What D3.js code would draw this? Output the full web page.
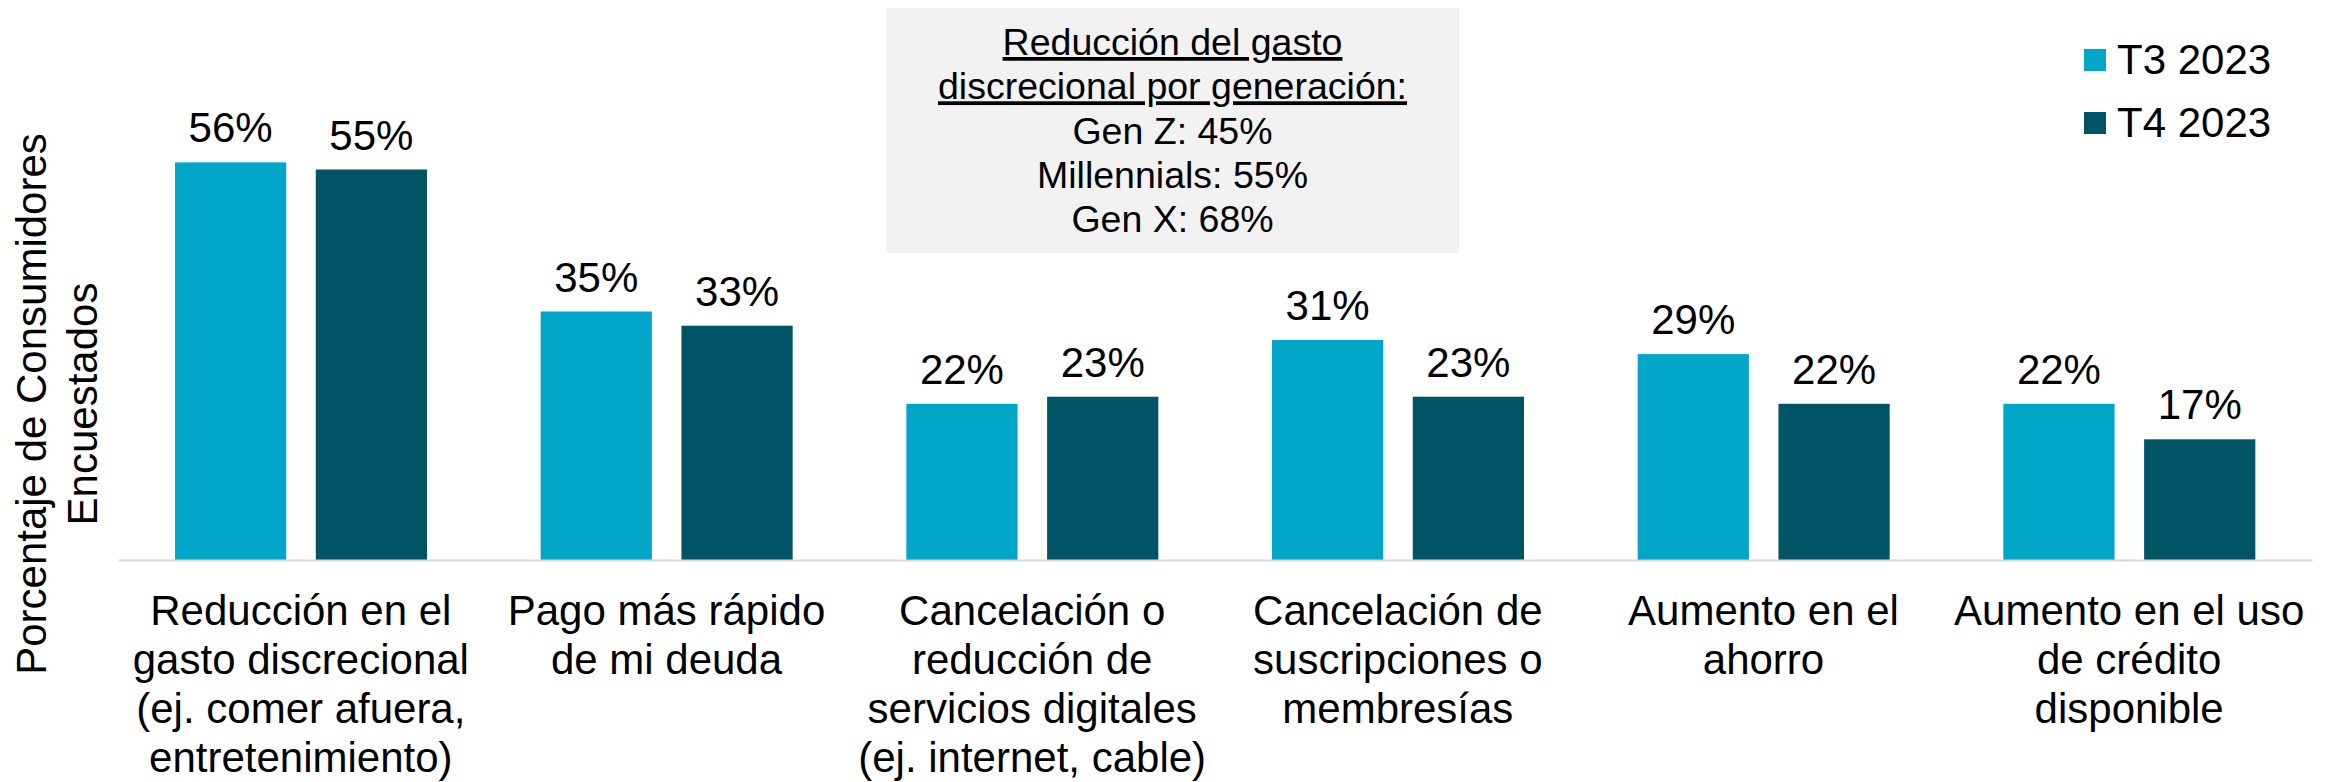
<!DOCTYPE html>
<html>
<head>
<meta charset="utf-8">
<script src="https://cdn.jsdelivr.net/npm/d3@7"></script>
<style>
  body { margin: 0; background: #fff; }
  text { font-family: "Liberation Sans", Arial, sans-serif; fill: #000; }
</style>
</head>
<body>
<div id="chart-container"></div>
<script>
// Categories (each label split into the lines shown under the axis)
const categories = ["reduccion", "pago", "cancelacion_digital", "suscripciones", "ahorro", "credito"];
const categoryLines = [
  ["Reducción en el", "gasto discrecional", "(ej. comer afuera,", "entretenimiento)"],
  ["Pago más rápido", "de mi deuda"],
  ["Cancelación o", "reducción de", "servicios digitales", "(ej. internet, cable)"],
  ["Cancelación de", "suscripciones o", "membresías"],
  ["Aumento en el", "ahorro"],
  ["Aumento en el uso", "de crédito", "disponible"]
];
const seriesNames = ["T3 2023", "T4 2023"];
const t3Values = [56, 35, 22, 31, 29, 22];
const t4Values = [55, 33, 23, 23, 22, 17];
const boxTitle = ["Reducción del gasto", "discrecional por generación:"];
const boxLines = ["Gen Z: 45%", "Millennials: 55%", "Gen X: 68%"];
const yTitle = ["Porcentaje de Consumidores", "Encuestados"];

const width = 2335;
const height = 782;
const marginLeft = 118;
const marginRight = 23;
const marginTop = 134;
const baseline = 560;

const colors = ["#01a6c9", "#015466"];

const svg = d3.create("svg")
  .attr("width", width)
  .attr("height", height)
  .attr("viewBox", [0, 0, width, height]);

// scales
const x0 = d3.scaleBand()
  .domain(categories)
  .range([marginLeft, width - marginRight])
  .padding(0);

const x1 = d3.scaleBand()
  .domain(seriesNames)
  .range([57, 309])
  .paddingInner(0.21)
  .paddingOuter(0);

const y = d3.scaleLinear()
  .domain([0, 60])
  .range([baseline, marginTop]);

const rows = categories.map((c, i) => ({
  category: c,
  values: [
    { series: seriesNames[0], value: t3Values[i] },
    { series: seriesNames[1], value: t4Values[i] }
  ]
}));

// bars
const groups = svg.append("g")
  .selectAll("g")
  .data(rows)
  .join("g")
  .attr("transform", d => `translate(${x0(d.category)},0)`);

groups.selectAll("rect")
  .data(d => d.values)
  .join("rect")
  .attr("x", d => x1(d.series))
  .attr("y", d => y(d.value))
  .attr("width", x1.bandwidth())
  .attr("height", d => y(0) - y(d.value))
  .attr("fill", (d, i) => colors[i]);

// value labels
groups.selectAll("text.value")
  .data(d => d.values)
  .join("text")
  .attr("class", "value")
  .attr("x", d => x1(d.series) + x1.bandwidth() / 2)
  .attr("y", d => y(d.value) - 20)
  .attr("text-anchor", "middle")
  .attr("font-size", "42px")
  .text(d => d.value + "%");

// x axis with multi-line labels
const xAxis = svg.append("g")
  .attr("transform", `translate(0,${baseline})`)
  .call(d3.axisBottom(x0).tickSize(0).tickFormat(""));

xAxis.select(".domain")
  .attr("stroke", "#d9d9d9")
  .attr("stroke-width", 2);

xAxis.selectAll(".tick text").remove();
xAxis.selectAll(".tick")
  .append("text")
  .attr("text-anchor", "middle")
  .attr("font-size", "42px")
  .attr("y", 65)
  .selectAll("tspan")
  .data((d, i) => categoryLines[i])
  .join("tspan")
  .attr("x", 0)
  .attr("dy", (d, i) => i === 0 ? 0 : 49)
  .text(d => d);

// y axis title
svg.append("text")
  .attr("transform", "translate(46,404) rotate(-90)")
  .attr("text-anchor", "middle")
  .attr("font-size", "42px")
  .selectAll("tspan")
  .data(yTitle)
  .join("tspan")
  .attr("x", 0)
  .attr("dy", (d, i) => i === 0 ? 0 : 51)
  .text(d => d);

// annotation box
const box = svg.append("g");
box.append("rect")
  .attr("x", 886)
  .attr("y", 8)
  .attr("width", 573)
  .attr("height", 245)
  .attr("fill", "#f2f2f2");

box.append("text")
  .attr("x", 1172.5)
  .attr("y", 55)
  .attr("text-anchor", "middle")
  .attr("font-size", "37.5px")
  .selectAll("tspan")
  .data(boxTitle.map(t => ({ t, u: true })).concat(boxLines.map(t => ({ t, u: false }))))
  .join("tspan")
  .attr("x", 1172.5)
  .attr("dy", (d, i) => i === 0 ? 0 : 44.3)
  .style("text-decoration", d => d.u ? "underline" : "none")
  .text(d => d.t);

// legend
const legend = svg.append("g")
  .attr("transform", "translate(2084,49)");

legend.selectAll("rect")
  .data(seriesNames)
  .join("rect")
  .attr("x", 0)
  .attr("y", (d, i) => i * 63)
  .attr("width", 22)
  .attr("height", 22)
  .attr("fill", (d, i) => colors[i]);

legend.selectAll("text")
  .data(seriesNames)
  .join("text")
  .attr("x", 33)
  .attr("y", (d, i) => i * 63 + 25)
  .attr("font-size", "42px")
  .text(d => d);

document.getElementById("chart-container").appendChild(svg.node());
</script>
</body>
</html>
